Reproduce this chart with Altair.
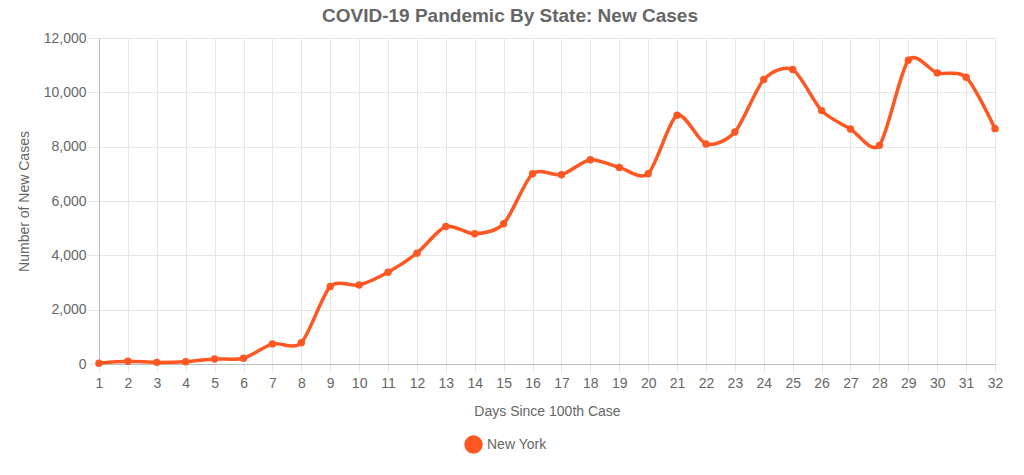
import altair as alt
import pandas as pd

days = list(range(1, 33))
new_cases = [30, 100, 60, 85, 185, 210, 740, 785, 2850, 2912, 3380, 4080, 5062, 4793, 5161,
             7004, 6967, 7520, 7237, 7004, 9155, 8099, 8541, 10470, 10838, 9327, 8652, 8048,
             11183, 10715, 10555, 8664]
state = ["New York"] * len(days)

df = pd.DataFrame({"day": days, "cases": new_cases, "state": state})

FONT = "Liberation Sans"
GREY = "#666666"
ORANGE = "#FF5722"

x = alt.X("day:Q", title="Days Since 100th Case",
          scale=alt.Scale(domain=[1, 32], nice=False, zero=False),
          axis=alt.Axis(values=days, format="d", labelFontSize=14, labelColor=GREY,
                        titleFontSize=14, titleColor=GREY, titleFontWeight="normal",
                        titleFont=FONT, labelFont=FONT, titlePadding=14, labelFlush=False,
                        tickColor="#e6e6e6", tickSize=8, labelPadding=4,
                        domainColor="#bdbdbd", gridColor="#e6e6e6"))
y = alt.Y("cases:Q", title="Number of New Cases",
          scale=alt.Scale(domain=[0, 12000], nice=False),
          axis=alt.Axis(values=[0, 2000, 4000, 6000, 8000, 10000, 12000], format=",.0f",
                        labelFontSize=14, labelColor=GREY, titleFontSize=14, titleColor=GREY,
                        titleFontWeight="normal", titleFont=FONT, labelFont=FONT,
                        labelFlush=False,
                        titlePadding=12, tickColor="#e6e6e6", tickSize=11, labelPadding=2,
                        domainColor="#bdbdbd", gridColor="#e6e6e6"))
color_scale = alt.Scale(domain=["New York"], range=[ORANGE])

line = alt.Chart(df).mark_line(interpolate="cardinal", tension=0.2, strokeWidth=3.5,
                               color=ORANGE).encode(x=x, y=y)
points = alt.Chart(df).mark_point(filled=True, size=55, opacity=1, shape="circle").encode(
    x=x, y=y,
    color=alt.Color("state:N", scale=color_scale,
                    legend=alt.Legend(title=None, orient="none", legendX=365, legendY=397,
                                      symbolType="circle", symbolSize=340, symbolStrokeWidth=0,
                                      symbolOpacity=1,
                                      labelFontSize=14, labelColor=GREY, labelFont=FONT,
                                      padding=0, labelOffset=4)))

chart = (line + points).properties(
    width=896, height=326,
    title=alt.TitleParams("COVID-19 Pandemic By State: New Cases", font=FONT, fontSize=19,
                          fontWeight="bold", color=GREY, anchor="middle", frame="bounds",
                          offset=5),
    autosize=alt.AutoSizeParams(type="none"),
    padding={"left": 99, "top": 38, "right": 29, "bottom": 111},
).configure_view(stroke=None).configure(background="white")

chart.save("out.html", embed_options={"renderer": "svg", "actions": False})
